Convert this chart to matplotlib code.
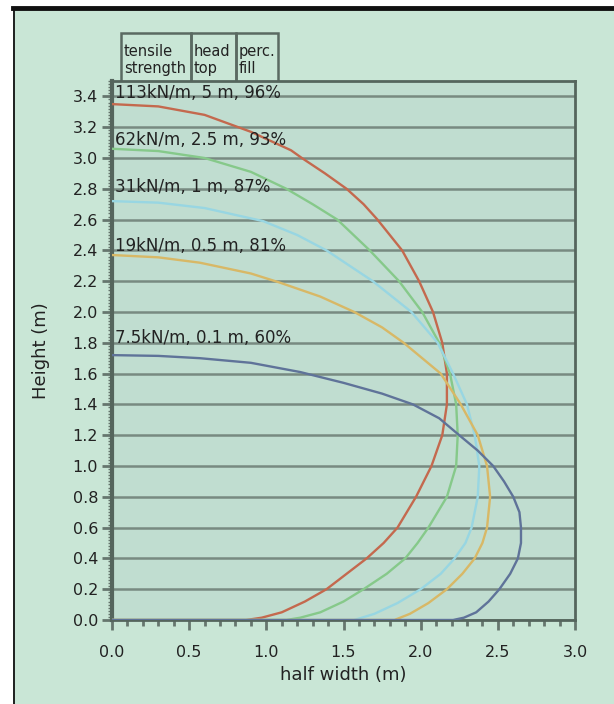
import numpy as np
import matplotlib.pyplot as plt
from matplotlib.ticker import MultipleLocator

# curve labels: tensile strength, head top, percentage fill
labels = ["113kN/m, 5 m, 96%", "62kN/m, 2.5 m, 93%", "31kN/m, 1 m, 87%",
          "19kN/m, 0.5 m, 81%", "7.5kN/m, 0.1 m, 60%"]
label_y = [3.42, 3.12, 2.81, 2.43, 1.83]

# half cross-sections (half width, height)
red_x = [0, 0.3, 0.6, 0.9, 1.16, 1.23, 1.38, 1.52, 1.63, 1.72, 1.88, 1.99, 2.08, 2.14, 2.17, 2.17,
         2.14, 2.07, 1.97, 1.85, 1.76, 1.65, 1.52, 1.39, 1.25, 1.1, 0.97, 0.87, 0]
red_y = [3.35, 3.335, 3.28, 3.17, 3.05, 3.0, 2.9, 2.8, 2.7, 2.6, 2.4, 2.2, 2.0, 1.8, 1.6, 1.4,
         1.2, 1.0, 0.8, 0.6, 0.5, 0.4, 0.3, 0.2, 0.12, 0.05, 0.015, 0, 0]

green_x = [0, 0.3, 0.6, 0.9, 1.13, 1.3, 1.46, 1.67, 1.86, 2.01, 2.12, 2.19, 2.23, 2.24, 2.23,
           2.17, 2.05, 1.98, 1.9, 1.78, 1.63, 1.5, 1.35, 1.22, 1.13, 0]
green_y = [3.06, 3.045, 3.0, 2.91, 2.8, 2.7, 2.6, 2.4, 2.2, 2.0, 1.8, 1.6, 1.4, 1.2, 1.0,
           0.8, 0.6, 0.5, 0.4, 0.3, 0.2, 0.12, 0.05, 0.015, 0, 0]

cyan_x = [0, 0.3, 0.6, 0.98, 1.2, 1.39, 1.69, 1.94, 2.11, 2.21, 2.3, 2.35, 2.38, 2.37, 2.33,
          2.29, 2.22, 2.13, 2.0, 1.85, 1.7, 1.57, 0]
cyan_y = [2.72, 2.71, 2.675, 2.59, 2.5, 2.4, 2.2, 2.0, 1.8, 1.6, 1.4, 1.2, 1.0, 0.8, 0.6,
          0.5, 0.4, 0.3, 0.2, 0.11, 0.04, 0, 0]

yellow_x = [0, 0.3, 0.57, 0.9, 1.09, 1.35, 1.57, 1.75, 1.89, 2.13, 2.26, 2.37, 2.43, 2.45, 2.43,
            2.4, 2.35, 2.27, 2.17, 2.05, 1.93, 1.83, 0]
yellow_y = [2.37, 2.355, 2.32, 2.25, 2.19, 2.1, 2.0, 1.9, 1.8, 1.6, 1.4, 1.2, 1.0, 0.8, 0.6,
            0.5, 0.4, 0.3, 0.2, 0.11, 0.04, 0, 0]

blue_x = [0, 0.3, 0.57, 0.9, 1.22, 1.5, 1.75, 1.95, 2.12, 2.25, 2.37, 2.47, 2.54, 2.6, 2.64,
          2.65, 2.65, 2.63, 2.58, 2.51, 2.44, 2.36, 2.28, 2.21, 0]
blue_y = [1.72, 1.715, 1.70, 1.67, 1.61, 1.54, 1.47, 1.4, 1.31, 1.2, 1.1, 1.0, 0.9, 0.8, 0.7,
          0.6, 0.5, 0.4, 0.3, 0.2, 0.12, 0.05, 0.015, 0, 0]

curves = [(red_x, red_y, "#c4694e"), (green_x, green_y, "#86c98a"),
          (cyan_x, cyan_y, "#98d6e2"), (yellow_x, yellow_y, "#d8b866"),
          (blue_x, blue_y, "#5f7399")]

header = ["tensile\nstrength", "head\ntop", "perc.\nfill"]
header_x = [121, 191, 236, 278]  # box edges in pixels

bg = "#c9e6d6"
grid_c = "#66766e"

fig = plt.figure(figsize=(6.14, 7.04), dpi=100)
fig.patch.set_facecolor("white")
W, H = 614, 704

# green panel with black frame (top thick, left thin)
panel = plt.Rectangle((13 / W, 0), 1 - 13 / W, 1 - 8 / H, transform=fig.transFigure,
                      facecolor=bg, edgecolor="none", zorder=-10)
fig.patches.append(panel)
fig.add_artist(plt.Line2D([13 / W, 1], [1 - 8 / H, 1 - 8 / H], transform=fig.transFigure,
                          color="#111111", lw=3.5))
fig.add_artist(plt.Line2D([13.5 / W, 13.5 / W], [0, 1 - 8 / H], transform=fig.transFigure,
                          color="#111111", lw=1.3))

ax = fig.add_axes([112 / W, 1 - 620 / H, 463 / W, 539 / H])
ax.set_zorder(5)
ax.set_facecolor("#c0ddd0")
ax.set_xlim(0, 3.0)
ax.set_ylim(0, 3.5)

for yy in np.arange(0, 3.41, 0.2):
    ax.axhline(yy, color=grid_c, lw=1.8, alpha=0.8, zorder=1)

for x, y, c in curves:
    ax.plot(x, y, color=c, lw=1.7, zorder=3, solid_joinstyle="round")

for t, yy in zip(labels, label_y):
    ax.text(0.02, yy, t, fontsize=12, color="#222222", va="center", ha="left", zorder=4)

ax.xaxis.set_major_locator(MultipleLocator(0.5))
ax.xaxis.set_minor_locator(MultipleLocator(0.1))
ax.yaxis.set_major_locator(MultipleLocator(0.2))
ax.yaxis.set_minor_locator(MultipleLocator(0.02))
ax.xaxis.set_major_formatter(lambda v, p: f"{v:.1f}")
ax.yaxis.set_major_formatter(lambda v, p: f"{v:.1f}")
ax.tick_params(axis="both", which="major", direction="out", length=7, width=2,
               color=grid_c, labelsize=11.5, labelcolor="#222222", pad=3)
ax.tick_params(axis="x", which="minor", direction="out", length=4, width=2, color=grid_c)
ax.tick_params(axis="y", which="minor", direction="out", length=3, width=1, color=grid_c)
ax.tick_params(axis="x", which="major", pad=11)
for s in ax.spines.values():
    s.set_color("#55655d")
    s.set_linewidth(2)
ax.spines["left"].set_linewidth(3)

ax.set_xlabel("half width (m)", fontsize=13, color="#222222", labelpad=4)
ax.set_ylabel("Height (m)", fontsize=13, color="#222222", labelpad=16)

# header boxes above the plot
for i, t in enumerate(header):
    x0, x1 = header_x[i], header_x[i + 1]
    fig.patches.append(plt.Rectangle((x0 / W, 1 - 83 / H), (x1 - x0) / W, 50 / H,
                                     transform=fig.transFigure, facecolor="none",
                                     edgecolor="#5a6a62", lw=1.8))
    fig.text((x0 + 3) / W, 1 - 60 / H, t, fontsize=10.5, color="#222222",
             va="center", ha="left", linespacing=1.15)

fig.savefig("out.png", dpi=100)
